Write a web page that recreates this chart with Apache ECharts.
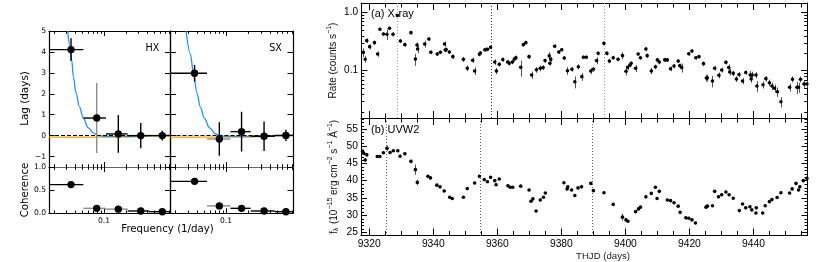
<!DOCTYPE html>
<html><head><meta charset="utf-8">
<script src="https://cdn.jsdelivr.net/npm/echarts@6/dist/echarts.min.js"></script>
<style>html,body{margin:0;padding:0;background:#fff}#c{width:830px;height:262px}</style>
</head><body><div id="c"></div>
<script>
// ================= DATA =================
// Left: lag / coherence vs frequency (1/day)
const hxFreq   = [0.0348, 0.0792, 0.158, 0.324, 0.645];
const hxFreqLo = [0.0172, 0.0516, 0.1066, 0.213, 0.422];
const hxFreqHi = [0.0516, 0.1066, 0.213, 0.422, 0.826];
const hxLag    = [4.11, 0.84, 0.08, 0.0, 0.0];
const hxLagErr = [0.54, 1.67, 0.90, 0.60, 0.23];
const hxCoh    = [0.62, 0.107, 0.09, 0.05, 0.035];
const hxCohErr = [0.03, 0.03, 0.02, 0.015, 0.01];

const sxFreq   = [0.0369, 0.081, 0.164, 0.335, 0.67];
const sxFreqLo = [0.0172, 0.0548, 0.1155, 0.219, 0.472];
const sxFreqHi = [0.0548, 0.1155, 0.219, 0.472, 0.839];
const sxLag    = [2.98, -0.16, 0.19, -0.03, 0.01];
const sxLagErr = [0.40, 0.80, 0.95, 0.70, 0.27];
const sxCoh    = [0.69, 0.16, 0.107, 0.05, 0.035];
const sxCohErr = [0.03, 0.05, 0.03, 0.015, 0.01];

// model curves
const hxModelFreq = [0.0313,0.0337,0.0356,0.0375,0.0409,0.0454,0.0516,0.0605,0.071,0.0833,0.0978,0.167,0.27,0.435,0.839];
const hxModelLag  = [5.0,4.24,3.6,2.81,2.03,1.39,0.84,0.37,0.13,0.0,-0.03,-0.04,-0.03,0.0,0.02];
const sxModelFreq = [0.0282,0.0322,0.0357,0.0398,0.0442,0.0503,0.0595,0.0714,0.0839,0.159,0.301,0.487,0.839];
const sxModelLag  = [5.0,3.92,2.98,2.03,1.39,0.84,0.37,0.08,-0.03,-0.04,-0.03,0.0,0.01];
const hxAltFreq = [0.0172, 0.1, 0.2, 0.3, 0.45, 0.839];
const hxAltLag  = [-0.07, -0.07, -0.07, -0.05, -0.01, 0.0];
const sxAltFreq = [0.0172, 0.1, 0.2, 0.3, 0.45, 0.839];
const sxAltLag  = [-0.07, -0.07, -0.07, -0.05, -0.01, 0.0];

// Right (a): X-ray rate (counts/s)
const xrayDay = [9318.1,9318.7,9319.2,9320.1,9321.6,9322.6,9323.3,9324.4,9325.5,9326.3,9327.4,9328.8,9329.7,9331.1,9333.0,9334.4,9334.9,9335.1,9337.3,9338.6,9339.2,9341.2,9342.2,9343.5,9343.7,9344.0,9345.0,9346.1,9349.4,9350.6,9352.3,9352.9,9354.4,9354.7,9356.1,9356.9,9357.9,9359.2,9359.7,9360.6,9361.7,9363.2,9363.7,
 9364.7,9365.3,9365.8,9367.3,9368.1,9368.9,9369.9,9370.7,9372.2,9373.4,9374.3,9374.9,9376.2,9376.4,9376.7,9377.9,9379.2,9380.1,9380.9,9381.9,9383.3,9384.2,9385.3,9386.4,9386.9,9387.8,9389.2,9390.0,9391.0,9391.5,9393.3,9394.2,9395.0,9396.2,9397.7,9399.1,9400.2,9400.7,9401.4,9401.8,9403.2,9404.0,9404.7,9406.4,9406.8,9408.1,9409.4,9410.0,9410.6,
 9412.3,9413.1,9414.1,9415.2,9416.5,9417.0,9417.6,9419.8,9420.8,9422.0,9423.0,9424.4,9425.3,9425.6,9427.2,9427.9,9429.2,9430.1,9431.4,9432.3,9432.6,9433.7,9434.7,9435.5,9436.6,9437.6,9439.0,9439.3,9439.6,9440.8,9441.1,9443.0,9443.9,9445.0,9445.8,9446.6,9447.5,9448.6,9451.3,9452.2,9453.6,9454.1,9454.7,9455.8,9456.7];
const xrayRate = [0.207,0.157,0.327,0.258,0.302,0.193,0.512,0.425,0.42,0.532,0.42,0.88,0.323,0.279,0.448,0.158,0.275,0.235,0.287,0.349,0.207,0.193,0.207,0.287,0.226,0.23,0.209,0.174,0.157,0.11,0.151,0.099,0.191,0.2,0.229,0.232,0.252,0.141,0.099,0.129,0.155,0.141,0.134,
 0.141,0.158,0.167,0.114,0.279,0.302,0.174,0.0844,0.104,0.11,0.113,0.149,0.179,0.134,0.157,0.262,0.209,0.229,0.165,0.1,0.106,0.0648,0.117,0.079,0.17,0.17,0.099,0.106,0.149,0.198,0.294,0.198,0.146,0.167,0.157,0.181,0.098,0.114,0.124,0.134,0.11,0.193,0.167,0.235,0.181,0.099,0.117,0.153,0.141,
 0.153,0.153,0.108,0.12,0.146,0.122,0.113,0.195,0.217,0.167,0.174,0.132,0.075,0.075,0.0667,0.11,0.0834,0.103,0.139,0.113,0.095,0.09,0.072,0.086,0.0667,0.093,0.0844,0.072,0.0844,0.0844,0.0547,0.0576,0.073,0.0623,0.0547,0.05,0.0437,0.0294,0.052,0.0713,0.052,0.052,0.0713,0.0592,0.0592];
const xrayErr = [0.035,0.02,0.03,0.025,0.025,0.02,0.03,0.03,0.085,0.035,0.035,0.05,0.025,0.02,0.03,0.037,0.03,0.035,0.04,0.025,0.015,0.015,0.015,0.03,0.02,0.02,0.015,0.015,0.015,0.012,0.015,0.015,0.015,0.015,0.02,0.015,0.02,0.015,0.012,0.012,0.012,0.012,0.012,
 0.012,0.015,0.015,0.035,0.02,0.02,0.015,0.012,0.012,0.012,0.01,0.012,0.03,0.012,0.015,0.02,0.015,0.015,0.012,0.015,0.01,0.015,0.012,0.012,0.012,0.012,0.012,0.01,0.02,0.015,0.02,0.015,0.012,0.012,0.012,0.025,0.015,0.012,0.01,0.01,0.015,0.012,0.012,0.02,0.015,0.012,0.01,0.012,0.012,
 0.012,0.01,0.01,0.01,0.01,0.01,0.02,0.015,0.015,0.012,0.01,0.012,0.01,0.01,0.015,0.01,0.01,0.01,0.012,0.015,0.012,0.01,0.008,0.008,0.008,0.008,0.015,0.01,0.012,0.01,0.012,0.008,0.008,0.008,0.008,0.008,0.008,0.006,0.008,0.008,0.012,0.01,0.008,0.008,0.008];

// Right (b): UVW2 flux density (1e-15 erg/cm2/s/A)
const uvDay = [9317.9,9318.3,9318.7,9319.2,9322.5,9323.3,9324.4,9325.5,9326.5,9327.5,9328.9,9329.6,9331.1,9333.0,9334.4,9335.0,9338.3,9339.1,9341.1,9342.1,9343.4,9345.1,9345.9,9349.4,9350.6,9352.9,9354.4,9355.9,9356.9,9357.9,9359.2,9359.6,9360.6,9363.3,9364.0,9364.8,9367.3,9369.9,9370.5,9371.1,9372.1,9373.4,9374.4,9375.0,9380.8,9381.8,9382.0,9383.2,9384.2,9385.2,9386.3,9389.2,9390.0,9393.3,9396.2,9399.1,9400.2,9400.8,9403.2,9404.1,9404.7,9406.4,9408.1,9409.4,9409.9,9410.6,9413.1,9414.1,9415.2,9416.5,9417.1,9418.9,9419.8,9420.8,9421.9,9425.2,9425.6,9427.2,9427.9,9429.1,9430.1,9431.4,9432.4,9433.7,9435.6,9436.6,9437.6,9438.9,9439.5,9440.8,9440.9,9442.9,9443.7,9445.0,9445.8,9447.4,9448.6,9451.3,9452.1,9453.3,9454.1,9454.5,9455.6,9456.7];
const uvFlux = [48.5,47.9,46.0,47.5,47.0,47.0,48.1,49.4,48.2,48.7,48.7,47.1,47.8,45.6,43.2,39.5,41.3,40.8,38.7,38.2,37.0,35.2,34.8,35.2,37.7,39.3,41.3,40.3,39.7,41.0,40.0,38.8,40.5,38.5,38.1,38.1,38.4,37.3,34.0,34.7,31.2,34.4,35.2,36.4,39.4,37.6,38.2,37.3,35.7,37.9,38.2,39.2,37.1,36.5,33.1,29.4,28.6,28.2,31.0,31.8,32.3,35.3,36.3,38.1,34.8,36.9,34.4,34.2,33.6,32.6,30.8,29.2,29.1,28.6,27.7,32.3,32.6,32.7,36.9,35.3,35.9,36.7,35.9,34.9,31.3,33.2,32.1,32.4,31.5,30.6,32.1,30.6,32.7,33.9,34.5,35.1,36.5,36.4,37.6,39.2,37.3,38.2,40.0,40.7];
const uvErr = [0.6,0.5,0.6,0.5,0.4,0.4,0.4,0.8,0.4,0.4,0.4,0.5,0.4,0.5,1.5,0.8,0.4,0.4,0.3,0.3,0.3,0.3,0.3,0.3,0.3,0.3,0.4,0.3,0.3,0.3,0.3,0.3,0.3,0.3,0.3,0.3,0.3,0.3,0.3,0.3,0.3,0.3,0.3,0.3,0.3,0.3,0.3,0.3,0.3,0.3,0.3,0.3,0.3,0.3,0.3,1.0,0.4,0.3,0.3,0.3,0.3,0.3,0.3,0.3,0.3,0.3,0.3,0.3,0.3,0.3,0.3,0.3,0.3,0.3,0.3,0.3,0.3,0.3,0.3,0.3,0.3,0.3,0.3,0.3,0.3,0.3,0.3,0.3,0.3,0.3,0.3,0.3,0.3,0.3,0.3,0.3,0.3,0.3,0.3,0.3,0.3,0.3,0.3,0.3];

// reference epochs (dotted vertical lines)
const epochsA = [9328.75, 9358.1, 9393.3];
const epochsB = [9325.3, 9354.7, 9389.7];

// tick values / labels
const freqLabelVals = [0.1], freqLabelText = ['0.1'];
const freqMinor = [0.02,0.03,0.04,0.05,0.06,0.07,0.08,0.09,0.2,0.3,0.4,0.5,0.6,0.7,0.8];
const lagTicks = [-1,0,1,2,3,4,5];
const cohTicks = [0,0.5,1.0];
const rateLabelVals = [0.1, 1.0], rateLabelText = ['0.1', '1.0'];
const rateMinor = [0.02,0.03,0.04,0.05,0.06,0.07,0.08,0.09,0.2,0.3,0.4,0.5,0.6,0.7,0.8,0.9];
const dayTicks = [9320,9340,9360,9380,9400,9420,9440];
const fluxTicks = [25,30,35,40,45,50,55];

// ================= BUILD =================
const L = Math.log10;
const FL = 'DejaVu Sans', FR = 'Liberation Sans';
const dayMinor = []; for (let d = 9320; d <= 9455; d += 5) if (dayTicks.indexOf(d) < 0) dayMinor.push(d);
const fluxMinor = []; for (let v = 25; v <= 58; v += 1) if (fluxTicks.indexOf(v) < 0) fluxMinor.push(v);

const FR_RANGE = [L(0.0172), L(0.839)];
const LAG_RANGE = [-1.5, 5], COH_RANGE = [0, 1];
const DAY_RANGE = [9317.4, 9456.9];
const RATE_RANGE = [-1.81, 0.159];
const FLUX_RANGE = [24.07, 58.2];

const grids = [], xAxes = [], yAxes = [], series = [];
function addGrid(r) { grids.push(Object.assign({outerBoundsMode:'none', containLabel:false}, r)); return grids.length - 1; }
function mkAxis(g, pos, range, ticks, len, labels, fmt, font, fs, lineColor, lw, margin) {
  return {
    type:'value', gridIndex:g, position:pos, min:range[0], max:range[1],
    splitLine:{show:false}, splitArea:{show:false},
    axisLine:{show:true, onZero:false, lineStyle:{color:lineColor, width:lw}},
    axisTick:{show:true, inside:true, length:len, customValues:ticks, lineStyle:{color:'#000', width:1}},
    axisLabel: labels ? {show:true, customValues:labels, formatter:fmt, fontFamily:font, fontSize:fs, color:'#000', margin:margin} : {show:false}
  };
}
function addAxes(g, o) {
  const xi = xAxes.length, yi = yAxes.length;
  xAxes.push(mkAxis(g,'bottom',o.xr,o.xMajor,o.xLen,o.xLabels,o.xFmt,o.font,o.fs,o.bColor||'#000',o.lw,o.xMargin));
  xAxes.push(mkAxis(g,'top',o.xr,o.xMajor,o.xLen,null,null,o.font,o.fs,o.tColor||'#000',o.lw,0));
  yAxes.push(mkAxis(g,'left',o.yr,o.yMajor,o.yLen,o.yLabels,o.yFmt,o.font,o.fs,'#000',o.lw,o.yMargin));
  yAxes.push(mkAxis(g,'right',o.yr,o.yMajor,o.yLen,null,null,o.font,o.fs,'#000',o.lw,0));
  return [xi, yi];
}
function minorTicks(ax, xr, yr, xs, ys, lenX, lenY) {
  return {type:'custom', xAxisIndex:ax[0], yAxisIndex:ax[1], silent:true, z:3,
    data: xs.map(v=>[v,0]).concat(ys.map(v=>[v,1])),
    renderItem(params, api) {
      const cs = params.coordSys, v = api.value(0), t = api.value(1);
      const st = {stroke:'#000', lineWidth:1};
      if (t === 0) {
        const px = Math.round(api.coord([v, yr[0]])[0]) + 0.5, b = cs.y + cs.height, tp = cs.y;
        return {type:'group', children:[
          {type:'line', shape:{x1:px,y1:b,x2:px,y2:b-lenX}, style:st},
          {type:'line', shape:{x1:px,y1:tp,x2:px,y2:tp+lenX}, style:st}]};
      }
      const py = Math.round(api.coord([xr[0], v])[1]) + 0.5, l = cs.x, r = cs.x + cs.width;
      return {type:'group', children:[
        {type:'line', shape:{x1:l,y1:py,x2:l+lenY,y2:py}, style:st},
        {type:'line', shape:{x1:r,y1:py,x2:r-lenY,y2:py}, style:st}]};
    }};
}
function epochLines(ax, yr, days, colors) {
  return {type:'custom', xAxisIndex:ax[0], yAxisIndex:ax[1], silent:true, z:2,
    data: days.map(d=>[d, yr[0]]),
    renderItem(params, api) {
      const cs = params.coordSys, px = Math.round(api.coord([api.value(0), api.value(1)])[0]) + 0.5;
      return {type:'line', shape:{x1:px,y1:cs.y,x2:px,y2:cs.y+cs.height},
        style:{stroke:colors[params.dataIndex], lineWidth:1, lineDash:[1,2]}};
    }};
}
function freqPoints(ax, f, flo, fhi, v, e, hGray, vGray) {
  return {type:'custom', xAxisIndex:ax[0], yAxisIndex:ax[1], z:10,
    data: f.map((x,i)=>[L(x), v[i], L(flo[i]), L(fhi[i]), v[i]-e[i], v[i]+e[i]]),
    renderItem(params, api) {
      const cs = params.coordSys, i = params.dataIndex;
      const c = api.coord([api.value(0), api.value(1)]);
      const xl = Math.max(cs.x, api.coord([api.value(2), api.value(1)])[0]);
      const xh = Math.min(cs.x + cs.width, api.coord([api.value(3), api.value(1)])[0]);
      const yl = Math.min(cs.y + cs.height, api.coord([api.value(0), api.value(4)])[1]);
      const yh = Math.max(cs.y, api.coord([api.value(0), api.value(5)])[1]);
      return {type:'group', children:[
        {type:'line', shape:{x1:xl,y1:c[1],x2:xh,y2:c[1]}, style:{stroke:hGray[i]?'#8c8c8c':'#000', lineWidth:1.4}},
        {type:'line', shape:{x1:c[0],y1:yl,x2:c[0],y2:yh}, style:{stroke:vGray[i]?'#8c8c8c':'#000', lineWidth:1.4}},
        {type:'circle', shape:{cx:c[0], cy:c[1], r:3.7}, style:{fill:'#000'}}]};
    }};
}
function timePoints(ax, days, vals, lo, hi) {
  return {type:'custom', xAxisIndex:ax[0], yAxisIndex:ax[1], z:10,
    data: days.map((d,i)=>[d, vals[i], lo[i], hi[i]]),
    renderItem(params, api) {
      const c = api.coord([api.value(0), api.value(1)]);
      const y1 = api.coord([api.value(0), api.value(2)])[1], y2 = api.coord([api.value(0), api.value(3)])[1];
      const x = Math.round(c[0]) + 0.5;
      return {type:'group', children:[
        {type:'line', shape:{x1:x,y1:y1,x2:x,y2:y2}, style:{stroke:'#555', lineWidth:1}},
        {type:'circle', shape:{cx:c[0], cy:c[1], r:1.8}, style:{fill:'#000'}}]};
    }};
}
function modelLine(ax, f, v, color, zeroLine) {
  const s = {type:'line', xAxisIndex:ax[0], yAxisIndex:ax[1], z:4, showSymbol:false, symbol:'none', silent:true,
    smooth:0.35, smoothMonotone:'x', clip:true,
    lineStyle:{color:color, width:1.3}, data: f.map((x,i)=>[L(x), v[i]])};
  if (zeroLine) s.markLine = {symbol:'none', silent:true, label:{show:false}, animation:false,
    lineStyle:{color:'#000', width:1, type:[4,2]}, data:[{yAxis:0}]};
  return s;
}

const lagFmt = v => (v < 0 ? '\u2212' + (-v) : String(v));
const cohFmt = v => v.toFixed(1);
const freqFmt = v => freqLabelText[freqLabelVals.findIndex(f => Math.abs(L(f) - v) < 1e-6)] || '';
const rateFmt = v => rateLabelText[rateLabelVals.findIndex(f => Math.abs(L(f) - v) < 1e-6)] || '';

// left panels
const gHXl = addGrid({left:49, top:31, width:121.5, height:136});
const gHXc = addGrid({left:49, top:167, width:121.5, height:46.3});
const gSXl = addGrid({left:170.5, top:31, width:122.5, height:136});
const gSXc = addGrid({left:170.5, top:167, width:122.5, height:46.3});
const freqMajorLog = freqLabelVals.map(L), freqMinorLog = freqMinor.map(L);
const baseL = {xr:FR_RANGE, xMajor:freqMajorLog, xLen:5, font:FL, fs:7.6, lw:1.2, yLen:5.5, xMargin:3.5, yMargin:3};
const aHXl = addAxes(gHXl, Object.assign({}, baseL, {yr:LAG_RANGE, yMajor:lagTicks, yLabels:lagTicks, yFmt:lagFmt, bColor:'#666'}));
const aHXc = addAxes(gHXc, Object.assign({}, baseL, {yr:COH_RANGE, yMajor:cohTicks, yLabels:cohTicks, yFmt:cohFmt, xLabels:freqMajorLog, xFmt:freqFmt, tColor:'#666'}));
const aSXl = addAxes(gSXl, Object.assign({}, baseL, {yr:LAG_RANGE, yMajor:lagTicks, bColor:'#666'}));
const aSXc = addAxes(gSXc, Object.assign({}, baseL, {yr:COH_RANGE, yMajor:cohTicks, xLabels:freqMajorLog, xFmt:freqFmt, tColor:'#666'}));

[[aHXl,LAG_RANGE],[aHXc,COH_RANGE],[aSXl,LAG_RANGE],[aSXc,COH_RANGE]].forEach(([a,yr]) =>
  series.push(minorTicks(a, FR_RANGE, yr, freqMinorLog, [], 2.8, 0)));

series.push(modelLine(aHXl, hxAltFreq, hxAltLag, '#ffa500', true));
series.push(modelLine(aHXl, hxModelFreq, hxModelLag, '#1e90ff', false));
series.push(modelLine(aSXl, sxAltFreq, sxAltLag, '#ffa500', true));
series.push(modelLine(aSXl, sxModelFreq, sxModelLag, '#1e90ff', false));
series.push(freqPoints(aHXl, hxFreq, hxFreqLo, hxFreqHi, hxLag, hxLagErr, [0,0,0,0,0], [0,1,0,0,0]));
series.push(freqPoints(aHXc, hxFreq, hxFreqLo, hxFreqHi, hxCoh, hxCohErr, [0,1,1,0,0], [0,0,0,0,0]));
series.push(freqPoints(aSXl, sxFreq, sxFreqLo, sxFreqHi, sxLag, sxLagErr, [0,1,0,0,0], [0,0,0,0,0]));
series.push(freqPoints(aSXc, sxFreq, sxFreqLo, sxFreqHi, sxCoh, sxCohErr, [0,1,0,0,0], [0,0,0,0,0]));

// right panels
const gA = addGrid({left:361, top:3, width:446.5, height:115});
const gB = addGrid({left:361, top:118, width:446.5, height:117.5});
const rateMajorLog = rateLabelVals.map(L), rateMinorLog = rateMinor.map(L);
const aA = addAxes(gA, {xr:DAY_RANGE, xMajor:dayTicks, xLen:7, yr:RATE_RANGE, yMajor:rateMajorLog, yLen:6.5,
  yLabels:rateMajorLog, yFmt:rateFmt, font:FR, fs:10, lw:1, yMargin:3});
const aB = addAxes(gB, {xr:DAY_RANGE, xMajor:dayTicks, xLen:7, yr:FLUX_RANGE, yMajor:fluxTicks, yLen:6,
  yLabels:fluxTicks, yFmt:v=>String(v), xLabels:dayTicks, xFmt:v=>String(v), font:FR, fs:10.3, lw:1, yMargin:3, xMargin:4});
series.push(minorTicks(aA, DAY_RANGE, RATE_RANGE, dayMinor, rateMinorLog, 4.5, 3.3));
series.push(minorTicks(aB, DAY_RANGE, FLUX_RANGE, dayMinor, fluxMinor, 4.5, 3));
series.push(epochLines(aA, RATE_RANGE, epochsA, ['#9a9a9a','#333','#9a9a9a']));
series.push(epochLines(aB, FLUX_RANGE, epochsB, ['#666','#666','#666']));
series.push(timePoints(aA, xrayDay, xrayRate.map(L), xrayRate.map((r,i)=>L(r - xrayErr[i])), xrayRate.map((r,i)=>L(r + xrayErr[i]))));
series.push(timePoints(aB, uvDay, uvFlux, uvFlux.map((v,i)=>v - uvErr[i]), uvFlux.map((v,i)=>v + uvErr[i])));

// texts
const T = (text, x, y, font, fs, opt) => Object.assign({type:'text', x:x, y:y, silent:true, z:50,
  style:Object.assign({text:text, fontFamily:font, fontSize:fs, fill:'#000', textAlign:'center', textVerticalAlign:'middle'}, opt && opt.style)}, opt && opt.el);
const rot = Math.PI / 2;
const graphics = [
  T('HX', 152.5, 48.5, FL, 9.6),
  T('SX', 275.5, 48.5, FL, 9.6),
  T('Lag (days)', 25.5, 98.5, FL, 10.4, {el:{rotation:rot}}),
  T('Coherence', 25.5, 190, FL, 10.2, {el:{rotation:rot}}),
  T('Frequency (1/day)', 167.5, 229.5, FL, 10.2),
  T('(a) X-ray', 371, 13.5, FR, 11, {style:{textAlign:'left'}}),
  T('(b) UVW2', 371, 130, FR, 11, {style:{textAlign:'left'}}),
  T('THJD (days)', 603, 256.5, FR, 9.6, {style:{fill:'#222'}}),
  {type:'text', x:332, y:60.5, rotation:rot, silent:true, z:50,
   style:{text:'{n|Rate (counts s}{s|\u22121}{n|)}', textAlign:'center', textVerticalAlign:'middle',
     rich:{n:{fontFamily:FR, fontSize:10, lineHeight:13, verticalAlign:'bottom', fill:'#111'},
           s:{fontFamily:FR, fontSize:7, lineHeight:8, verticalAlign:'top', fill:'#111'}}}},
  {type:'text', x:333, y:177, rotation:rot, silent:true, z:50,
   style:{text:'{n|f}{b|\u03bb}{n| (10}{s|\u221215}{n| erg cm}{s|\u22122}{n| s}{s|\u22121}{n| \u00c5}{s|\u22121}{n|)}', textAlign:'center', textVerticalAlign:'middle',
     rich:{n:{fontFamily:FR, fontSize:10, lineHeight:13, verticalAlign:'bottom', fill:'#111'},
           s:{fontFamily:FR, fontSize:7, lineHeight:8, verticalAlign:'top', fill:'#111'},
           b:{fontFamily:FR, fontSize:7, lineHeight:8, verticalAlign:'bottom', fill:'#111', padding:[0,1,0,0]}}}}
];

const chart = echarts.init(document.getElementById('c'), null, {renderer:'canvas'});
chart.setOption({
  animation:false, backgroundColor:'#fff',
  grid:grids, xAxis:xAxes, yAxis:yAxes, series:series, graphic:graphics
});
</script></body></html>
